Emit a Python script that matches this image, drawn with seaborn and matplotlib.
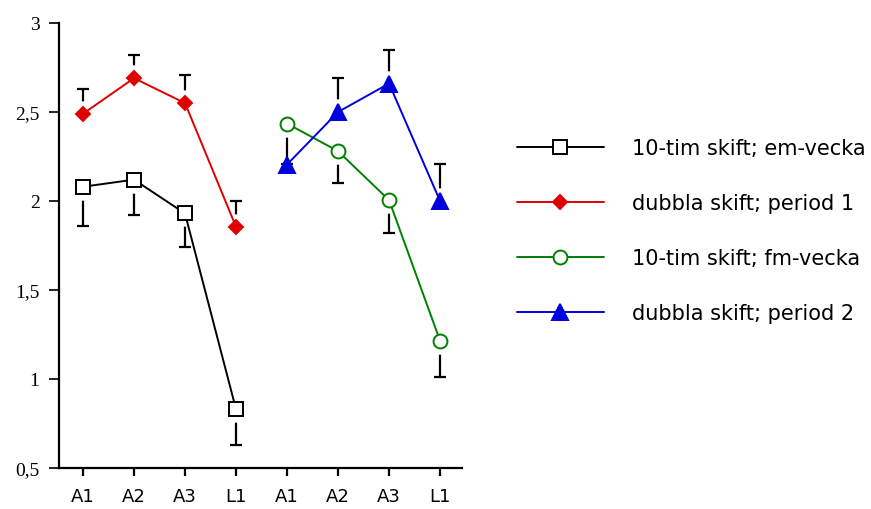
import matplotlib
matplotlib.use("Agg")
import matplotlib.pyplot as plt
import seaborn as sns
import numpy as np
import pandas as pd

# ---- data ----
x_labels = ["A1", "A2", "A3", "L1", "A1", "A2", "A3", "L1"]
pos_group1 = [0, 1, 2, 3]
pos_group2 = [4, 5, 6, 7]

series_names = ["10-tim skift; em-vecka", "dubbla skift; period 1",
                "10-tim skift; fm-vecka", "dubbla skift; period 2"]

em_vecka = [2.08, 2.12, 1.93, 0.83]
em_vecka_err = [1.86, 1.92, 1.74, 0.63]          # lower error ends

period1 = [2.49, 2.69, 2.55, 1.855]
period1_err = [2.63, 2.82, 2.71, 2.00]           # upper error ends

fm_vecka = [2.435, 2.28, 2.005, 1.215]
fm_vecka_err = [2.21, 2.10, 1.82, 1.01]          # lower error ends

period2 = [2.205, 2.50, 2.66, 2.00]
period2_err = [np.nan, 2.69, 2.85, 2.21]         # upper error ends

y_ticks = [0.5, 1.0, 1.5, 2.0, 2.5, 3.0]
y_ticklabels = ["0,5", "1", "1,5", "2", "2,5", "3"]

# ---- styling ----
sns.set_style("ticks")
plt.rcParams["font.family"] = ["DejaVu Sans"]

fig = plt.figure(figsize=(8.71, 5.10), dpi=100)
ax = fig.add_axes([59 / 871, 41 / 510, (462 - 59) / 871, (469 - 24) / 510])

specs = [
    (series_names[0], pos_group1, em_vecka, em_vecka_err, "black", "s", 10, "white"),
    (series_names[1], pos_group1, period1, period1_err, "#e00000", "D", 7.2, "#e00000"),
    (series_names[2], pos_group2, fm_vecka, fm_vecka_err, "#008000", "o", 10, "white"),
    (series_names[3], pos_group2, period2, period2_err, "#0000dd", "^", 11, "#0000dd"),
]

# error bars (black, one-sided with caps)
for name, xs, ys, errs, color, mk, ms, mfc in specs:
    ax.vlines(xs, ys, errs, color="black", linewidth=1.6, zorder=1)
    ax.plot(xs, errs, linestyle="none", marker="_", markersize=9,
            markeredgewidth=1.6, color="black", zorder=1)
    # white halo so the error stems stop short of the symbols
    has_err = ~np.isnan(np.asarray(errs, dtype=float))
    ax.plot(np.asarray(xs)[has_err], np.asarray(ys)[has_err], linestyle="none",
            marker="o", markersize=19, markerfacecolor="white",
            markeredgecolor="none", zorder=2)

for name, xs, ys, errs, color, mk, ms, mfc in specs:
    df = pd.DataFrame({"x": xs, "y": ys})
    sns.lineplot(data=df, x="x", y="y", ax=ax, color=color, marker=mk,
                 markersize=ms, markerfacecolor=mfc, markeredgecolor=color,
                 markeredgewidth=1.4, linewidth=1.4, label=name, zorder=3)

ax.set_xlim(-0.47, 7.43)
ax.set_ylim(0.5, 3.0)
ax.set_xticks(range(len(x_labels)))
ax.set_xticklabels(x_labels, fontsize=13, fontfamily="DejaVu Sans")
ax.set_yticks(y_ticks)
ax.set_yticklabels(y_ticklabels, fontsize=14, fontfamily="Liberation Serif")
ax.set_xlabel("")
ax.set_ylabel("")

for side in ["top", "right"]:
    ax.spines[side].set_visible(False)
for side in ["left", "bottom"]:
    ax.spines[side].set_linewidth(1.6)
    ax.spines[side].set_color("black")
ax.tick_params(axis="y", direction="out", length=7, width=1.2, pad=7, colors="black")
ax.tick_params(axis="x", direction="out", length=6, width=1.6, pad=7.5, colors="black")

leg = ax.legend(loc="upper left", bbox_to_anchor=(517 / 871, 1 - 139 / 510),
                bbox_transform=fig.transFigure, frameon=False, fontsize=15,
                handlelength=4.17, handletextpad=1.33, labelspacing=1.68,
                borderpad=0, borderaxespad=0)
for t in leg.get_texts():
    t.set_color("black")

fig.savefig("out.png", dpi=100)
